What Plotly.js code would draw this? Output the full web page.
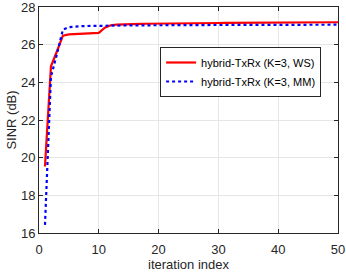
<!DOCTYPE html>
<html>
<head>
<meta charset="utf-8">
<script src="https://cdn.plot.ly/plotly-3.0.1.min.js"></script>
<style>html,body{margin:0;padding:0;background:#fff;}#plot{width:346px;height:274px;}</style>
</head>
<body>
<div id="plot"></div>
<script>
const iterations = Array.from({length: 50}, (_, i) => i + 1);
const sinrWS = [19.53, 24.85, 25.65, 26.48, 26.55, 26.57, 26.58, 26.59, 26.60, 26.63,
  26.90, 27.03, 27.06, 27.08, 27.09, 27.10, 27.10, 27.11, 27.11, 27.12,
  27.12, 27.13, 27.13, 27.13, 27.14, 27.14, 27.14, 27.15, 27.15, 27.15,
  27.16, 27.16, 27.16, 27.16, 27.17, 27.17, 27.17, 27.17, 27.17, 27.18,
  27.18, 27.18, 27.18, 27.18, 27.18, 27.19, 27.19, 27.19, 27.19, 27.19];
const sinrMM = [16.43, 24.30, 25.50, 26.80, 26.93, 26.97, 26.98, 26.99, 27.00, 27.00,
  27.01, 27.01, 27.02, 27.02, 27.02, 27.03, 27.03, 27.03, 27.03, 27.03,
  27.04, 27.04, 27.04, 27.04, 27.04, 27.04, 27.04, 27.05, 27.05, 27.05,
  27.05, 27.05, 27.05, 27.05, 27.05, 27.05, 27.05, 27.06, 27.06, 27.06,
  27.06, 27.06, 27.06, 27.06, 27.06, 27.06, 27.06, 27.06, 27.06, 27.06];
const seriesNames = ['hybrid-TxRx (K=3, WS)', 'hybrid-TxRx (K=3, MM)'];
const xTicks = [0, 10, 20, 30, 40, 50];
const yTicks = [16, 18, 20, 22, 24, 26, 28];

const traces = [
  {x: iterations, y: sinrWS, name: seriesNames[0], mode: 'lines',
   line: {color: '#ff0000', width: 2.2, dash: 'solid'}},
  {x: iterations, y: sinrMM, name: seriesNames[1], mode: 'lines',
   line: {color: '#0000ff', width: 2.2, dash: 'dot'}}
];
const axisCommon = {
  showline: true, linecolor: '#262626', linewidth: 1, mirror: 'ticks',
  ticks: 'inside', ticklen: 4, tickcolor: '#262626',
  showgrid: true, gridcolor: '#e6e6e6', gridwidth: 1, zeroline: false,
  ticklabeloverflow: 'allow',
  tickfont: {family: 'Liberation Sans, Arial, sans-serif', size: 13, color: '#262626'}
};
const layout = {
  width: 346, height: 274,
  margin: {l: 39, r: 8, t: 7, b: 41},
  paper_bgcolor: '#fff', plot_bgcolor: '#fff',
  font: {family: 'Liberation Sans, Arial, sans-serif', color: '#262626'},
  xaxis: Object.assign({}, axisCommon, {range: [0, 50], tickvals: xTicks, ticklabelstandoff: 4,
    title: {text: 'iteration index', font: {size: 13, color: '#262626'}, standoff: 2}}),
  yaxis: Object.assign({}, axisCommon, {range: [16, 28], tickvals: yTicks,
    title: {text: 'SINR (dB)', font: {size: 13, color: '#262626'}, standoff: 1}}),
  showlegend: true,
  legend: {x: 0.405, y: 0.823, xanchor: 'left', yanchor: 'top',
    bgcolor: '#fff', bordercolor: '#262626', borderwidth: 1,
    font: {size: 11, color: '#000'}, tracegroupgap: 0, itemwidth: 30}
};
Plotly.newPlot('plot', traces, layout, {staticPlot: true});
</script>
</body>
</html>
